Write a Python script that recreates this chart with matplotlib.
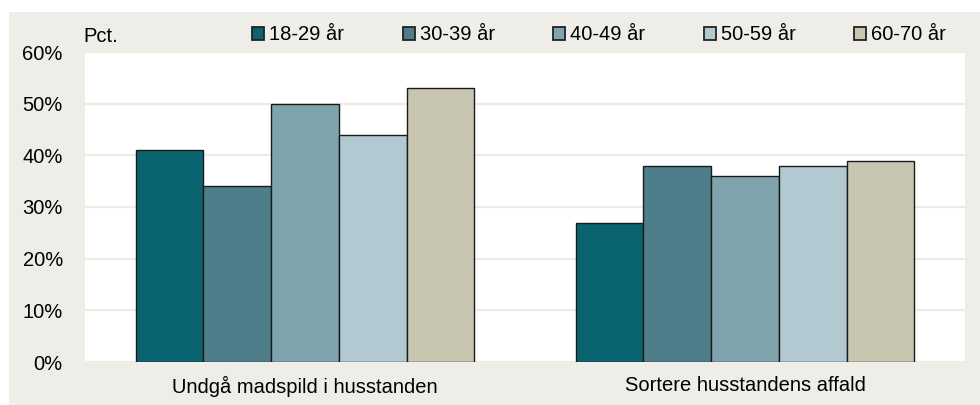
import matplotlib.pyplot as plt
import numpy as np
from matplotlib.patches import Rectangle

plt.rcParams['font.family'] = ['Liberation Sans', 'DejaVu Sans']

categories = ["Undgå madspild i husstanden", "Sortere husstandens affald"]
age_groups = ["18-29 år", "30-39 år", "40-49 år", "50-59 år", "60-70 år"]
values = {
    "18-29 år": [41, 27],
    "30-39 år": [34, 38],
    "40-49 år": [50, 36],
    "50-59 år": [44, 38],
    "60-70 år": [53, 39],
}
colors = ["#0a6470", "#4f7e8b", "#7fa4ad", "#b3c9d2", "#c8c6b0"]
y_ticks = [0, 10, 20, 30, 40, 50, 60]

W, H = 980, 405
FS = 14.5
fig = plt.figure(figsize=(W / 100, H / 100), dpi=100, facecolor="white")
# beige background panel
fig.patches.append(Rectangle((9 / W, 0), 1, 1 - 12 / H, transform=fig.transFigure,
                             facecolor="#eeede7", edgecolor="none", zorder=-10))

ax = fig.add_axes([85 / W, 1 - 362 / H, (965 - 85) / W, (362 - 52) / H])
ax.set_facecolor("white")

x = np.arange(len(categories))
bar_w = 0.77 / len(age_groups)
for i, (grp, col) in enumerate(zip(age_groups, colors)):
    offs = (i - 2) * bar_w
    ax.bar(x + offs, values[grp], width=bar_w, color=col, edgecolor="#1a1a1a",
           linewidth=1.0, label=grp, zorder=3)

ax.set_xlim(-0.5, 1.5)
ax.set_ylim(0, 60)
ax.set_yticks(y_ticks)
ax.set_yticklabels([f"{t}%" for t in y_ticks], fontsize=FS)
ax.set_xticks(x)
ax.set_xticklabels(categories, fontsize=FS)
ax.tick_params(axis="y", length=0, pad=16)
ax.tick_params(axis="x", length=0, pad=10)
ax.yaxis.grid(True, color="#efebe1", linewidth=1.6, zorder=0)
for s in ax.spines.values():
    s.set_visible(False)

fig.text(83 / W, 1 - 37 / H, "Pct.", fontsize=FS, va="center", ha="left")

leg = fig.legend(loc="center left", bbox_to_anchor=(252 / W, 1 - 35 / H), ncol=5,
                 frameon=False, fontsize=FS, handlelength=0.6, handleheight=0.6,
                 handletextpad=0.25, columnspacing=2.9, borderaxespad=0, borderpad=0)
for h in leg.legend_handles:
    h.set_edgecolor("#222222")
    h.set_linewidth(1.3)

plt.savefig("out.png", dpi=100, facecolor=fig.get_facecolor())
